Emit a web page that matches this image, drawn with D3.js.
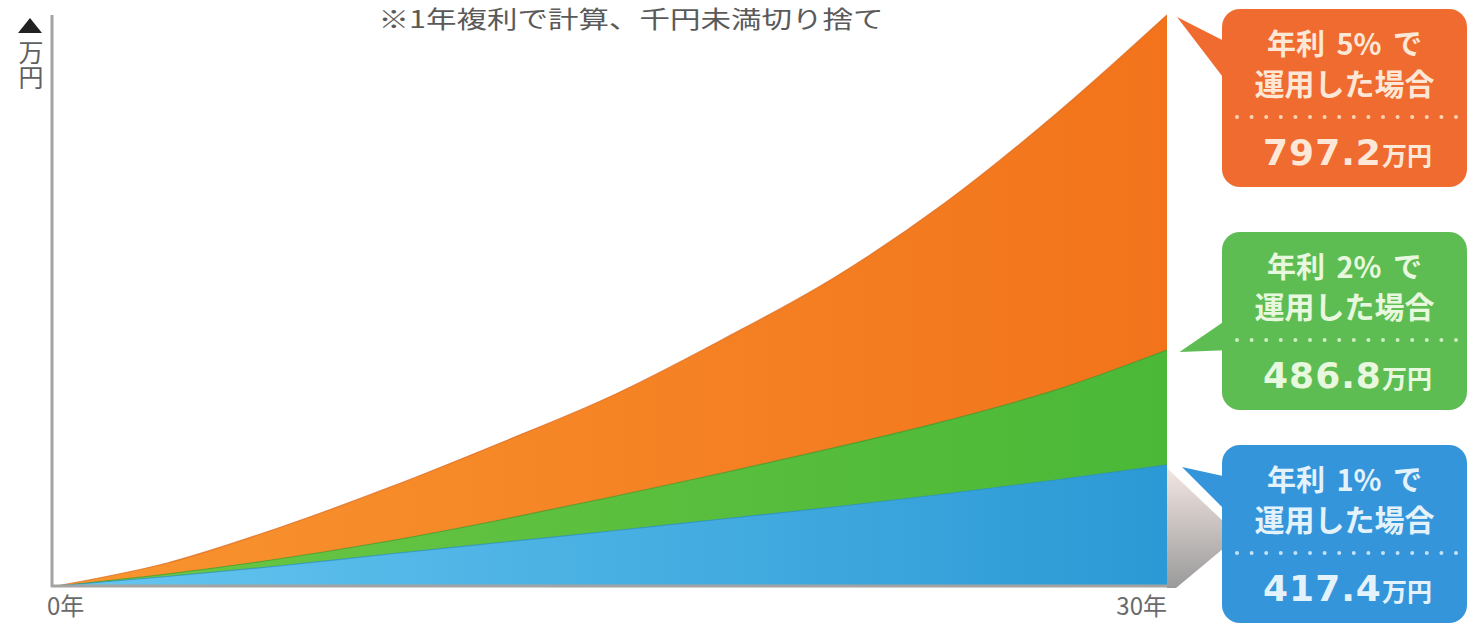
<!DOCTYPE html>
<html>
<head>
<meta charset="utf-8">
<script src="https://cdn.jsdelivr.net/npm/d3@7"></script>
<style>
  html, body { margin: 0; padding: 0; background: #ffffff; }
  svg { display: block; }
</style>
</head>
<body>
<svg id="chart" width="1469" height="624"></svg>
<script>
// Accumulated savings (万円) by year for each annual rate
const years = [0, 3, 6, 9, 12, 15, 18, 21, 24, 27, 30];
const rate5Values = [0, 79.3, 200.1, 340.1, 430.7, 459.0, 496.6, 553.5, 623.0, 705.5, 797.2];
const rate2Values = [0, 41.4, 93.1, 155.2, 227.7, 307.0, 389.8, 427.7, 443.9, 462.7, 486.8];
const rate1Values = [0, 32.8, 69.0, 110.4, 150.1, 189.7, 231.1, 272.5, 317.4, 365.7, 417.4];

const seriesNames = ["年利 5% で", "年利 2% で", "年利 1% で"];
const seriesSub = "運用した場合";
const unitLabel = "万円";
const xTickLabels = ["0年", "30年"];
const noteText = "※1年複利で計算、千円未満切り捨て";

// Layout
const W = 1469, H = 624;
const plotLeft = 56, plotRight = 1167, plotBottom = 586;
// vertical positions used as the scale's range stops (bottom → each series end)
const yRangeStops = [586, 465, 350, 15];

const svg = d3.select("#chart");
const defs = svg.append("defs");

function hGrad(id, c0, c1) {
  const g = defs.append("linearGradient").attr("id", id)
    .attr("x1", "0%").attr("y1", "0%").attr("x2", "100%").attr("y2", "0%");
  g.append("stop").attr("offset", "0%").attr("stop-color", c0);
  g.append("stop").attr("offset", "100%").attr("stop-color", c1);
}
hGrad("gOrange", "#f8952f", "#f2731b");
hGrad("gGreen", "#6cc645", "#4bb837");
hGrad("gBlue", "#66c6f0", "#2b99d5");
const gShade = defs.append("linearGradient").attr("id", "gShade")
  .attr("x1", "0%").attr("y1", "0%").attr("x2", "0%").attr("y2", "100%");
gShade.append("stop").attr("offset", "0%").attr("stop-color", "#f3e6e2");
gShade.append("stop").attr("offset", "100%").attr("stop-color", "#9a9a9a");

const series = [
  { name: seriesNames[0], values: rate5Values, fill: "url(#gOrange)", edge: "#d8651a",
    box: "#f06b30", text: "#fde8d8", dots: "#fbd2b4", boxTop: 9 },
  { name: seriesNames[1], values: rate2Values, fill: "url(#gGreen)", edge: "#3f9a2c",
    box: "#5dbd53", text: "#e8f8df", dots: "#cdeec0", boxTop: 232 },
  { name: seriesNames[2], values: rate1Values, fill: "url(#gBlue)", edge: "#2c8ec6",
    box: "#3595da", text: "#e4f2fc", dots: "#c4e2f7", boxTop: 445 }
];

const x = d3.scaleLinear().domain([d3.min(years), d3.max(years)]).range([plotLeft, plotRight]);
const endValues = series.map(s => s.values[s.values.length - 1]).sort(d3.ascending);
const y = d3.scaleLinear().domain([0].concat(endValues)).range(yRangeStops);

// title note
svg.append("text")
  .attr("x", 631).attr("y", 28)
  .attr("text-anchor", "middle")
  .attr("font-family", "'Noto Sans CJK JP', sans-serif")
  .attr("font-size", 24)
  .attr("textLength", 505)
  .attr("lengthAdjust", "spacingAndGlyphs")
  .attr("fill", "#5a5a5a")
  .text(noteText);

// side shading under the bottom callout
svg.append("path")
  .attr("d", "M1167,468 L1224,522 L1224,548 L1176,588 L1167,588 Z")
  .attr("fill", "url(#gShade)");

// areas
const area = d3.area()
  .x((d, i) => x(years[i]))
  .y0(y(0))
  .y1(d => y(d))
  .curve(d3.curveMonotoneX);
const line = d3.line()
  .x((d, i) => x(years[i]))
  .y(d => y(d))
  .curve(d3.curveMonotoneX);

const g = svg.append("g");
series.forEach(s => {
  g.append("path").attr("d", area(s.values)).attr("fill", s.fill);
  g.append("path").attr("d", line(s.values)).attr("fill", "none")
    .attr("stroke", s.edge).attr("stroke-width", 1.2).attr("stroke-opacity", 0.7);
});

// axes
const axisColor = "#a3a3a3";
svg.append("line").attr("x1", 52).attr("x2", 52).attr("y1", 15).attr("y2", plotBottom + 1)
  .attr("stroke", axisColor).attr("stroke-width", 3);
svg.append("line").attr("x1", 51).attr("x2", plotRight).attr("y1", plotBottom).attr("y2", plotBottom)
  .attr("stroke", axisColor).attr("stroke-width", 3);

// axis arrow and unit
svg.append("path").attr("d", "M18,33 L30,18 L42,33 Z").attr("fill", "#222");
svg.append("text")
  .attr("x", 31).attr("y", 40)
  .attr("writing-mode", "vertical-rl")
  .attr("font-family", "'Noto Sans CJK JP', sans-serif")
  .attr("font-size", 25)
  .attr("fill", "#606060")
  .text(unitLabel);

// x labels
svg.append("text").attr("x", 47).attr("y", 615)
  .attr("font-family", "'Noto Sans CJK JP', sans-serif").attr("font-size", 24)
  .attr("fill", "#6a6a6a").text(xTickLabels[0]);
svg.append("text").attr("x", plotRight).attr("y", 615).attr("text-anchor", "end")
  .attr("font-family", "'Noto Sans CJK JP', sans-serif").attr("font-size", 24)
  .attr("fill", "#6a6a6a").text(xTickLabels[1]);

// callouts
const boxX = 1222, boxW = 245, boxH = 178, boxCx = boxX + boxW / 2;
const fmt = d3.format(".1f");
series.forEach((s, i) => {
  const last = s.values[s.values.length - 1];
  const tipX = 1177 + i * 2.5;
  const tipY = y(last) + 2;
  const cg = svg.append("g");
  // pointer
  const b0 = s.boxTop + [36, 84, 33][i];
  const b1 = s.boxTop + [80, 118, 72][i];
  cg.append("path")
    .attr("d", `M${tipX},${tipY} L${boxX + 10},${b0} L${boxX + 10},${b1} Z`)
    .attr("fill", s.box);
  cg.append("rect")
    .attr("x", boxX).attr("y", s.boxTop).attr("width", boxW).attr("height", boxH)
    .attr("rx", 18).attr("fill", s.box);
  cg.append("line")
    .attr("x1", 1237).attr("x2", 1456)
    .attr("y1", s.boxTop + 108).attr("y2", s.boxTop + 108)
    .attr("stroke", s.dots).attr("stroke-width", 4)
    .attr("stroke-linecap", "round").attr("stroke-dasharray", "0 14.6");

  const t = cg.append("text")
    .attr("text-anchor", "middle")
    .attr("font-family", "'Noto Sans CJK JP', sans-serif")
    .attr("font-weight", 700)
    .attr("fill", s.text);
  t.append("tspan")
    .attr("x", boxCx).attr("y", s.boxTop + 46)
    .attr("font-size", 29).attr("word-spacing", 5)
    .text(s.name);
  t.append("tspan")
    .attr("x", boxCx).attr("y", s.boxTop + 86)
    .attr("font-size", 30)
    .text(seriesSub);
  t.append("tspan")
    .attr("x", boxCx + 3).attr("y", s.boxTop + 156)
    .attr("font-family", "'DejaVu Sans', sans-serif")
    .attr("font-size", 36).attr("letter-spacing", 1)
    .text(fmt(last));
  t.append("tspan")
    .attr("font-size", 25)
    .text(unitLabel);
});
</script>
</body>
</html>
